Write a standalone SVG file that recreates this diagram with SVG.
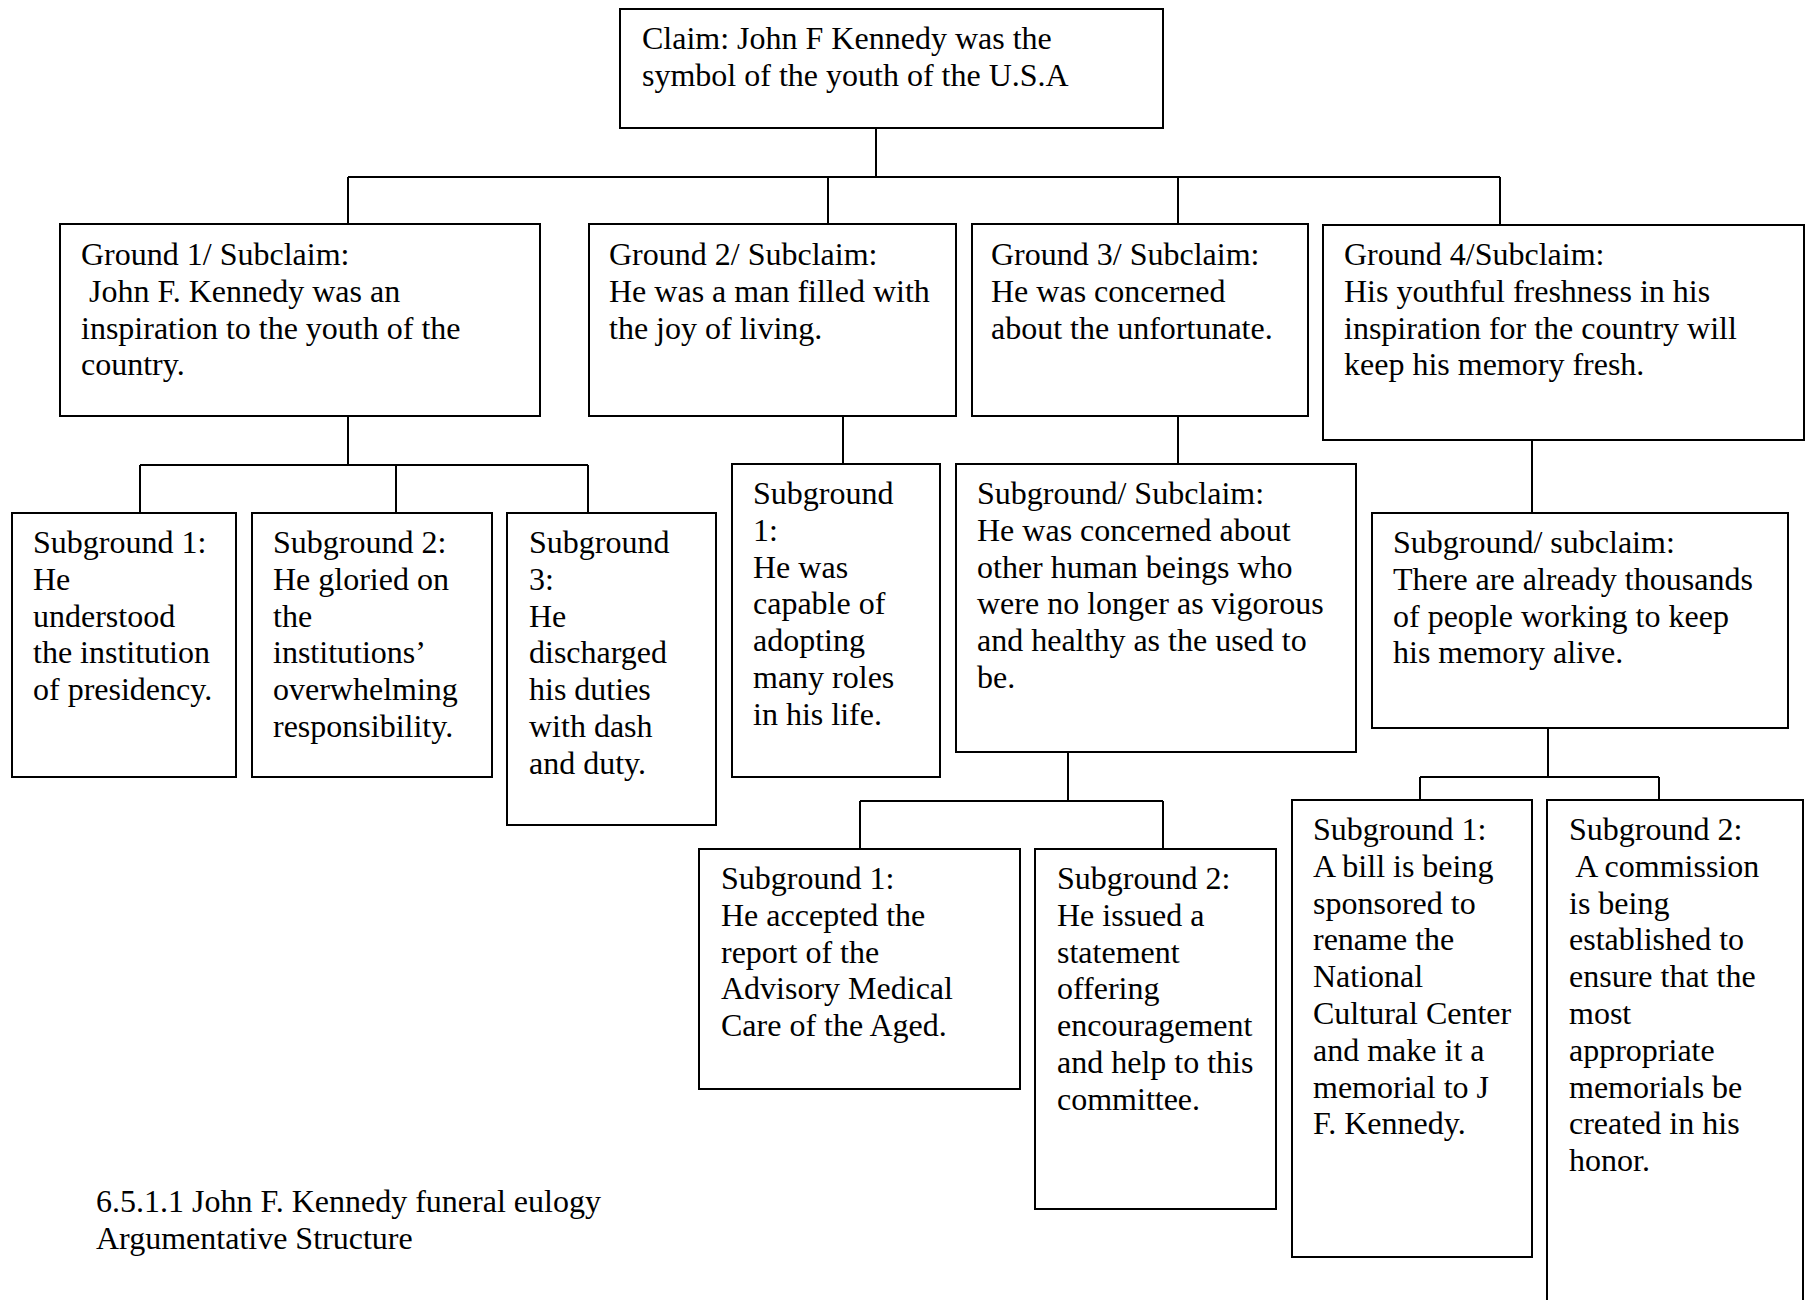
<svg xmlns="http://www.w3.org/2000/svg" width="1810" height="1300" viewBox="0 0 1810 1300">
<style>
.box{fill:#fff;stroke:#000;stroke-width:2}
.c{fill:none;stroke:#000;stroke-width:2}
.t{font-family:"Liberation Serif","Times New Roman",serif;font-size:32px;fill:#000;white-space:pre}
</style>
<rect width="1810" height="1300" fill="#fff"/>
<g id="connectors">
<path class="c" d="M876,128V177M348,177H1500M348,177V224M828,177V224M1178,177V224M1500,177V224"/>
<path class="c" d="M348,416V465M140,465H588M140,465V513M396,465V513M588,465V513"/>
<path class="c" d="M843,416V464"/>
<path class="c" d="M1178,416V464"/>
<path class="c" d="M1068,752V801M860,801H1163M860,801V849M1163,801V849"/>
<path class="c" d="M1532,440V513"/>
<path class="c" d="M1548,728V777M1420,777H1659M1420,777V800M1659,777V800"/>
</g>
<g id="claim">
<rect class="box" x="620" y="9" width="543" height="119"/>
<text class="t" x="642" y="49">Claim: John F Kennedy was the<tspan x="642" dy="36.8">symbol of the youth of the U.S.A</tspan></text>
</g>
<g id="ground1">
<rect class="box" x="60" y="224" width="480" height="192"/>
<text class="t" x="81" y="265">Ground 1/ Subclaim:<tspan x="81" dy="36.8"> John F. Kennedy was an</tspan><tspan x="81" dy="36.8">inspiration to the youth of the</tspan><tspan x="81" dy="36.8">country.</tspan></text>
</g>
<g id="ground2">
<rect class="box" x="589" y="224" width="367" height="192"/>
<text class="t" x="609" y="265">Ground 2/ Subclaim:<tspan x="609" dy="36.8">He was a man filled with</tspan><tspan x="609" dy="36.8">the joy of living.</tspan></text>
</g>
<g id="ground3">
<rect class="box" x="972" y="224" width="336" height="192"/>
<text class="t" x="991" y="265">Ground 3/ Subclaim:<tspan x="991" dy="36.8">He was concerned</tspan><tspan x="991" dy="36.8">about the unfortunate.</tspan></text>
</g>
<g id="ground4">
<rect class="box" x="1323" y="225" width="481" height="215"/>
<text class="t" x="1344" y="265">Ground 4/Subclaim:<tspan x="1344" dy="36.8">His youthful freshness in his</tspan><tspan x="1344" dy="36.8">inspiration for the country will</tspan><tspan x="1344" dy="36.8">keep his memory fresh.</tspan></text>
</g>
<g id="g1-sub1">
<rect class="box" x="12" y="513" width="224" height="264"/>
<text class="t" x="33" y="553">Subground 1:<tspan x="33" dy="36.8">He</tspan><tspan x="33" dy="36.8">understood</tspan><tspan x="33" dy="36.8">the institution</tspan><tspan x="33" dy="36.8">of presidency.</tspan></text>
</g>
<g id="g1-sub2">
<rect class="box" x="252" y="513" width="240" height="264"/>
<text class="t" x="273" y="553">Subground 2:<tspan x="273" dy="36.8">He gloried on</tspan><tspan x="273" dy="36.8">the</tspan><tspan x="273" dy="36.8">institutions’</tspan><tspan x="273" dy="36.8">overwhelming</tspan><tspan x="273" dy="36.8">responsibility.</tspan></text>
</g>
<g id="g1-sub3">
<rect class="box" x="507" y="513" width="209" height="312"/>
<text class="t" x="529" y="553">Subground<tspan x="529" dy="36.8">3:</tspan><tspan x="529" dy="36.8">He</tspan><tspan x="529" dy="36.8">discharged</tspan><tspan x="529" dy="36.8">his duties</tspan><tspan x="529" dy="36.8">with dash</tspan><tspan x="529" dy="36.8">and duty.</tspan></text>
</g>
<g id="g2-sub1">
<rect class="box" x="732" y="464" width="208" height="313"/>
<text class="t" x="753" y="504">Subground<tspan x="753" dy="36.8">1:</tspan><tspan x="753" dy="36.8">He was</tspan><tspan x="753" dy="36.8">capable of</tspan><tspan x="753" dy="36.8">adopting</tspan><tspan x="753" dy="36.8">many roles</tspan><tspan x="753" dy="36.8">in his life.</tspan></text>
</g>
<g id="g3-subclaim">
<rect class="box" x="956" y="464" width="400" height="288"/>
<text class="t" x="977" y="504">Subground/ Subclaim:<tspan x="977" dy="36.8">He was concerned about</tspan><tspan x="977" dy="36.8">other human beings who</tspan><tspan x="977" dy="36.8">were no longer as vigorous</tspan><tspan x="977" dy="36.8">and healthy as the used to</tspan><tspan x="977" dy="36.8">be.</tspan></text>
</g>
<g id="g3-sub1">
<rect class="box" x="699" y="849" width="321" height="240"/>
<text class="t" x="721" y="889">Subground 1:<tspan x="721" dy="36.8">He accepted the</tspan><tspan x="721" dy="36.8">report of the</tspan><tspan x="721" dy="36.8">Advisory Medical</tspan><tspan x="721" dy="36.8">Care of the Aged.</tspan></text>
</g>
<g id="g3-sub2">
<rect class="box" x="1035" y="849" width="241" height="360"/>
<text class="t" x="1057" y="889">Subground 2:<tspan x="1057" dy="36.8">He issued a</tspan><tspan x="1057" dy="36.8">statement</tspan><tspan x="1057" dy="36.8">offering</tspan><tspan x="1057" dy="36.8">encouragement</tspan><tspan x="1057" dy="36.8">and help to this</tspan><tspan x="1057" dy="36.8">committee.</tspan></text>
</g>
<g id="g4-subclaim">
<rect class="box" x="1372" y="513" width="416" height="215"/>
<text class="t" x="1393" y="553">Subground/ subclaim:<tspan x="1393" dy="36.8">There are already thousands</tspan><tspan x="1393" dy="36.8">of people working to keep</tspan><tspan x="1393" dy="36.8">his memory alive.</tspan></text>
</g>
<g id="g4-sub1">
<rect class="box" x="1292" y="800" width="240" height="457"/>
<text class="t" x="1313" y="840">Subground 1:<tspan x="1313" dy="36.8">A bill is being</tspan><tspan x="1313" dy="36.8">sponsored to</tspan><tspan x="1313" dy="36.8">rename the</tspan><tspan x="1313" dy="36.8">National</tspan><tspan x="1313" dy="36.8">Cultural Center</tspan><tspan x="1313" dy="36.8">and make it a</tspan><tspan x="1313" dy="36.8">memorial to J</tspan><tspan x="1313" dy="36.8">F. Kennedy.</tspan></text>
</g>
<g id="g4-sub2">
<rect class="box" x="1547" y="800" width="256" height="540"/>
<text class="t" x="1569" y="840">Subground 2:<tspan x="1569" dy="36.8"> A commission</tspan><tspan x="1569" dy="36.8">is being</tspan><tspan x="1569" dy="36.8">established to</tspan><tspan x="1569" dy="36.8">ensure that the</tspan><tspan x="1569" dy="36.8">most</tspan><tspan x="1569" dy="36.8">appropriate</tspan><tspan x="1569" dy="36.8">memorials be</tspan><tspan x="1569" dy="36.8">created in his</tspan><tspan x="1569" dy="36.8">honor.</tspan></text>
</g>
<g id="caption">
<text class="t" x="96" y="1212">6.5.1.1 John F. Kennedy funeral eulogy<tspan x="96" dy="36.8">Argumentative Structure</tspan></text>
</g>
</svg>
